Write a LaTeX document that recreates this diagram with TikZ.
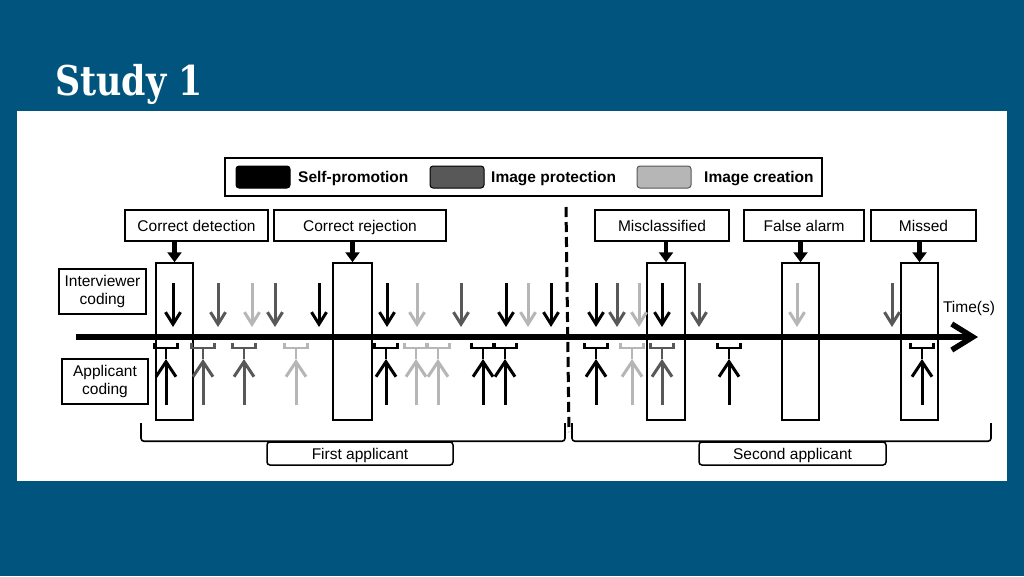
\documentclass[tikz,border=0pt]{standalone}
\usepackage{fontspec}
\setmainfont{Liberation Sans}
\newfontfamily\titlefont{DejaVu Serif}
\usetikzlibrary{arrows.meta}
\definecolor{bg}{RGB}{0,84,125}
\definecolor{dg}{RGB}{88,88,88}
\definecolor{lg}{RGB}{182,182,182}
\begin{document}
\begin{tikzpicture}[x=1pt,y=-1pt,
  lbl/.style={draw,line width=1.5pt,inner sep=0pt,font=\fontsize{15.5}{18.5}\selectfont,align=center},
  toplbl/.style={lbl,minimum height=31pt,text height=14pt,text depth=3pt},
  tallbox/.style={draw,line width=1.5pt,minimum width=37pt,minimum height=157pt,inner sep=0pt},
  sw/.style={draw,line width=1pt,rounded corners=3pt,minimum width=54pt,minimum height=22pt,inner sep=0pt},
  legtxt/.style={anchor=base west,inner sep=0pt,font=\bfseries\fontsize{15.5}{17}\selectfont},
  pointer/.style={line width=4.5pt,-{Triangle[length=10pt,width=14pt]}},
  iarrow/.style={line width=3pt,-{Straight Barb[length=12pt,width=15pt]}},
  aarrow/.style={line width=3pt,-{Straight Barb[length=15pt,width=20pt]}},
  brk/.style={line width=2.6pt},
  appbox/.style={draw,line width=1.5pt,rounded corners=3pt,inner sep=0pt,minimum height=23pt,text height=14pt,text depth=3pt,font=\fontsize{15.5}{18}\selectfont}
]
\useasboundingbox (0,0) rectangle (1024,576);
\fill[bg] (0,0) rectangle (1024,576);
\fill[white] (17,111) rectangle (1007,481);
\node[anchor=base west,inner sep=0pt,text=white,font=\titlefont\bfseries\fontsize{41}{41}\selectfont] (title) at (55,95) {\scalebox{0.85}[1]{Study 1}};

% legend
\node[draw,line width=1.3pt,minimum width=597pt,minimum height=38pt,inner sep=0pt] (legend) at (523.5,177) {};
\node[sw,fill=black] (s1) at (263,177) {};
\node[sw,fill=dg] (s2) at (457,177) {};
\node[sw,fill=lg,draw=dg] (s3) at (664,177) {};
\node[legtxt] (l1) at (298,182.5) {Self-promotion};
\node[legtxt] (l2) at (491,182.5) {Image protection};
\node[legtxt] (l3) at (704,182.5) {Image creation};

% top labels
\node[toplbl,minimum width=143pt] (cd) at (196.5,225.5) {Correct detection};
\node[toplbl,minimum width=172pt] (cr) at (360,225.5) {Correct rejection};
\node[toplbl,minimum width=134pt] (mc) at (662,225.5) {Misclassified};
\node[toplbl,minimum width=120pt] (fa) at (804,225.5) {False alarm};
\node[toplbl,minimum width=105pt] (ms) at (923.5,225.5) {Missed};

% left labels
\node[lbl,minimum width=87pt,minimum height=45pt] (ic) at (102.5,291.5) {Interviewer\\coding};
\node[lbl,minimum width=86pt,minimum height=45pt] (ac) at (105,381.5) {Applicant\\coding};

% tall boxes
\node[tallbox] (r1) at (174.5,341.5) {};
\node[tallbox,minimum width=39pt] (r2) at (352.5,341.5) {};
\node[tallbox,minimum width=38pt] (r3) at (666,341.5) {};
\node[tallbox] (r4) at (800.5,341.5) {};
\node[tallbox] (r5) at (919.5,341.5) {};

\foreach \b/\r in {cd/r1,cr/r2,mc/r3,fa/r4,ms/r5}
  \draw[pointer] (\r.north |- \b.south) -- (\r.north);

% timeline
\coordinate (ts) at (76,337);
\coordinate (te) at (978,337);
\draw[line width=5.5pt,-{Straight Barb[length=21pt,width=26pt]}] (ts) -- (te);
\node[font=\fontsize{15.5}{18}\selectfont,inner sep=0pt] (time) at (969,308) {Time(s)};

% dashed divider
\coordinate (d0) at (566,207);
\coordinate (d1) at (569,432);
\draw[line width=3pt,dash pattern=on 10pt off 5pt] (d0) -- (d1);

% interviewer arrows
\foreach \x/\c [count=\i] in {173/black,218/dg,252/lg,275/dg,319/black,387/black,417/lg,461/dg,506/black,528/lg,551/black,596/black,617/dg,639/lg,662/black,699/dg,797/lg,892/dg}{
  \coordinate (ia\i) at (\x,283);
  \coordinate (ib\i) at (\x,327);
  \draw[iarrow,draw=\c] (ia\i) -- (ib\i);
}

% applicant arrows with brackets
\foreach \x/\c [count=\i] in {166/black,203/dg,244/dg,296/lg,386/black,416/lg,438/lg,483/black,505/black,596/black,632/lg,662/dg,729/black,922/black}{
  \coordinate (aa\i) at (\x,405);
  \coordinate (ab\i) at (\x,359);
  \coordinate (bc\i) at (\x,348);
  \draw[aarrow,draw=\c] (aa\i) -- (ab\i);
  \draw[brk,draw=\c] ([xshift=-11.5pt,yshift=5pt]bc\i) -- ([xshift=-11.5pt]bc\i) -- ([xshift=11.5pt]bc\i) -- ([xshift=11.5pt,yshift=5pt]bc\i);
  \draw[brk,draw=\c] (bc\i) -- (ab\i);
}

% bottom brackets
\node[appbox,minimum width=186pt] (fap) at (360,453.5) {First applicant};
\node[appbox,minimum width=187pt] (sap) at (792.5,453.5) {Second applicant};
\coordinate (f0) at (141,423);
\coordinate (f1) at (565,423);
\coordinate (g0) at (572,423);
\coordinate (g1) at (991,423);
\draw[line width=1.6pt,rounded corners=3pt] (f0) |- (fap.north) -| (f1);
\draw[line width=1.6pt,rounded corners=3pt] (g0) |- (sap.north) -| (g1);
\end{tikzpicture}
\end{document}
